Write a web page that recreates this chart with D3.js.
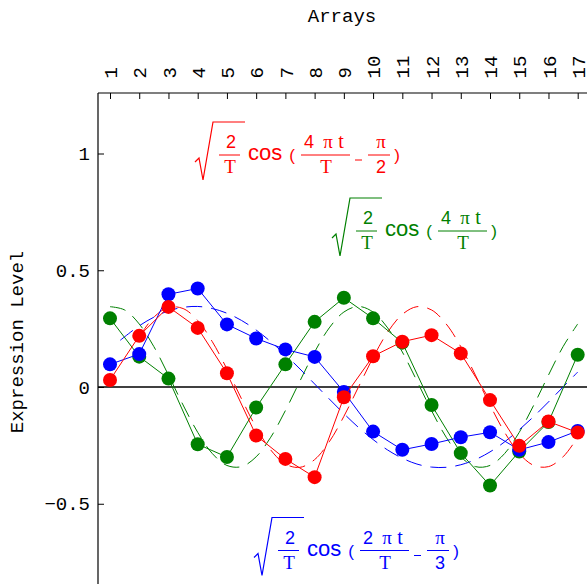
<!DOCTYPE html>
<html>
<head>
<meta charset="utf-8">
<script src="https://cdn.jsdelivr.net/npm/d3@7"></script>
<style>
  body { margin: 0; background: #fff; }
  svg { display: block; }
</style>
</head>
<body>
<div id="chart"></div>
<script>
// arrays on the top axis
const arrays = [1, 2, 3, 4, 5, 6, 7, 8, 9, 10, 11, 12, 13, 14, 15, 16, 17];
const yTicks = [-0.5, 0, 0.5, 1];

// measured expression levels
const redValues = [0.030, 0.219, 0.343, 0.253, 0.059, -0.208, -0.308, -0.386, -0.044, 0.132, 0.194, 0.222, 0.144, -0.056, -0.252, -0.148, -0.195];
const greenValues = [0.294, 0.130, 0.036, -0.245, -0.300, -0.088, 0.097, 0.279, 0.382, 0.294, 0.190, -0.077, -0.283, -0.422, -0.276, -0.150, 0.138];
const blueValues = [0.097, 0.141, 0.397, 0.422, 0.268, 0.208, 0.161, 0.129, -0.021, -0.191, -0.269, -0.244, -0.215, -0.194, -0.269, -0.236, -0.188];

// dashed model curves (array position, level)
const greenFitT = [1, 1.5, 2, 2.5, 3, 3.5, 4, 4.5, 5, 5.5, 6, 6.5, 7, 7.5, 8, 8.5, 9, 9.5, 10, 10.5, 11, 11.5, 12, 12.5, 13, 13.5, 14, 14.5, 15, 15.5, 16, 16.5, 17];
const greenFit = [0.344, 0.330, 0.270, 0.173, 0.051, -0.077, -0.194, -0.285, -0.336, -0.341, -0.299, -0.215, -0.101, 0.026, 0.150, 0.253, 0.321, 0.345, 0.321, 0.253, 0.150, 0.026, -0.101, -0.215, -0.299, -0.341, -0.336, -0.285, -0.194, -0.077, 0.051, 0.173, 0.270];
const redFitT = [2, 2.5, 3, 3.5, 4, 4.5, 5, 5.5, 6, 6.5, 7, 7.5, 8, 8.5, 9, 9.5, 10, 10.5, 11, 11.5, 12, 12.5, 13, 13.5, 14, 14.5, 15, 15.5, 16, 16.5, 17];
const redFit = [0.215, 0.299, 0.341, 0.336, 0.285, 0.194, 0.077, -0.051, -0.173, -0.270, -0.330, -0.344, -0.311, -0.235, -0.126, 0.000, 0.126, 0.235, 0.311, 0.344, 0.330, 0.270, 0.173, 0.051, -0.077, -0.194, -0.285, -0.336, -0.341, -0.299, -0.215];
const blueFitT = [1.35, 1.5, 2, 2.5, 3, 3.5, 4, 4.5, 5, 5.5, 6, 6.5, 7, 7.5, 8, 8.5, 9, 9.5, 10, 10.5, 11, 11.5, 12, 12.5, 13, 13.5, 14, 14.5, 15, 15.5, 16, 16.5, 17];
const blueFit = [0.200, 0.215, 0.262, 0.299, 0.326, 0.341, 0.345, 0.336, 0.316, 0.285, 0.244, 0.194, 0.138, 0.077, 0.013, -0.051, -0.114, -0.173, -0.225, -0.270, -0.305, -0.330, -0.343, -0.344, -0.333, -0.311, -0.278, -0.235, -0.183, -0.126, -0.064, 0.000, 0.064];

const width = 587;
const height = 584;
const mono = "'Liberation Mono', 'Courier New', monospace";
const sans = "'Liberation Sans', Arial, sans-serif";
const serif = "'Liberation Serif', 'Times New Roman', serif";

const frameLeft = 98;
const frameTop = 93;

const x = d3.scaleLinear().domain([1, 17]).range([110, 577.7]);
const y = d3.scaleLinear().domain([-0.5, 1]).range([503.75, 153.5]);

const svg = d3
  .select('#chart')
  .append('svg')
  .attr('width', width)
  .attr('height', height);

// frame (left + top), the rest runs off the picture
svg.append('line')
  .attr('x1', frameLeft).attr('x2', frameLeft)
  .attr('y1', frameTop).attr('y2', height + 5)
  .attr('stroke', '#000').attr('stroke-width', 1.2);
svg.append('line')
  .attr('x1', frameLeft).attr('x2', width + 5)
  .attr('y1', frameTop).attr('y2', frameTop)
  .attr('stroke', '#000').attr('stroke-width', 1.2);

// top axis: ticks inward, labels turned
const xAxis = svg.append('g')
  .attr('transform', `translate(0, ${frameTop})`)
  .call(d3.axisTop(x).tickValues(arrays).tickSizeInner(-6).tickSizeOuter(0).tickFormat(d3.format('d')));
xAxis.select('.domain').remove();
xAxis.selectAll('line').attr('stroke', '#000');
xAxis.selectAll('text')
  .attr('font-family', mono)
  .attr('font-size', 19)
  .attr('fill', '#000')
  .attr('text-anchor', 'start')
  .attr('transform', 'rotate(-90)')
  .attr('x', 14.5)
  .attr('y', 0)
  .attr('dy', '0.35em');

// left axis
const yAxis = svg.append('g')
  .attr('transform', `translate(${frameLeft}, 0)`)
  .call(d3.axisLeft(y).tickValues(yTicks).tickSizeInner(-6).tickSizeOuter(0)
    .tickFormat((d) => (d === 0 ? '0' : d3.format('')(d).replace('-', '\u2212'))));
yAxis.select('.domain').remove();
yAxis.selectAll('line').attr('stroke', '#000');
yAxis.selectAll('text')
  .attr('font-family', mono)
  .attr('font-size', 19)
  .attr('fill', '#000')
  .attr('x', -8);

// axis titles
svg.append('text')
  .attr('x', 342).attr('y', 22)
  .attr('text-anchor', 'middle')
  .attr('font-family', mono).attr('font-size', 19)
  .text('Arrays');
svg.append('text')
  .attr('transform', 'translate(23, 342) rotate(-90)')
  .attr('text-anchor', 'middle')
  .attr('font-family', mono).attr('font-size', 19)
  .text('Expression Level');

// zero line
svg.append('line')
  .attr('x1', frameLeft).attr('x2', width + 5)
  .attr('y1', y(0)).attr('y2', y(0))
  .attr('stroke', '#000').attr('stroke-width', 1.3);

const series = [
  { color: '#008000', values: greenValues, fitT: greenFitT, fit: greenFit },
  { color: '#0000ff', values: blueValues, fitT: blueFitT, fit: blueFit },
  { color: '#ff0000', values: redValues, fitT: redFitT, fit: redFit },
];

const fitLine = d3.line().x((d) => x(d[0])).y((d) => y(d[1])).curve(d3.curveCatmullRom);
const dataLine = d3.line().x((d, i) => x(arrays[i])).y((d) => y(d));

// dashed model curves
series.forEach((s) => {
  svg.append('path')
    .attr('d', fitLine(d3.zip(s.fitT, s.fit)))
    .attr('fill', 'none')
    .attr('stroke', s.color)
    .attr('stroke-width', 1)
    .attr('stroke-dasharray', '16,9');
});

// data: line then dots, green / blue / red
series.forEach((s) => {
  svg.append('path')
    .attr('d', dataLine(s.values))
    .attr('fill', 'none')
    .attr('stroke', s.color)
    .attr('stroke-width', 1);
  svg.append('g')
    .selectAll('circle')
    .data(s.values)
    .join('circle')
    .attr('cx', (d, i) => x(arrays[i]))
    .attr('cy', (d) => y(d))
    .attr('r', 7)
    .attr('fill', s.color);
});

// formula labels: sqrt(2/T) cos( n pi t / T - pi/k )
function formula(x0, y0, color, num, phase) {
  const g = svg.append('g').attr('fill', color);
  const txt = (tx, ty, s, font, size, anchor) =>
    g.append('text')
      .attr('x', x0 + tx).attr('y', y0 + ty)
      .attr('text-anchor', anchor || 'middle')
      .attr('font-family', font).attr('font-size', size)
      .text(s);
  const bar = (a, b) =>
    g.append('line')
      .attr('x1', x0 + a).attr('x2', x0 + b)
      .attr('y1', y0).attr('y2', y0)
      .attr('stroke', color).attr('stroke-width', 1);

  g.append('path')
    .attr('d', `M${x0},${y0 + 7}L${x0 + 4},${y0 + 3}L${x0 + 8},${y0 + 25}L${x0 + 18},${y0 - 33}L${x0 + 50},${y0 - 33}`)
    .attr('fill', 'none')
    .attr('stroke', color)
    .attr('stroke-width', 1.2);
  txt(36, -7, '2', sans, 18);
  bar(24, 45);
  txt(35, 18, 'T', serif, 19);
  txt(53, 5, 'cos', sans, 22, 'start');
  txt(97, 6, '(', sans, 17);
  txt(114, -7, num, sans, 18);
  txt(133, -7, '\u03c0', serif, 19);
  txt(146, -7, 't', serif, 20);
  bar(106, 155);
  txt(131, 18, 'T', serif, 19);
  if (phase) {
    g.append('line')
      .attr('x1', x0 + 160).attr('x2', x0 + 167)
      .attr('y1', y0 + 5).attr('y2', y0 + 5)
      .attr('stroke', color).attr('stroke-width', 1);
    txt(186, -7, '\u03c0', serif, 19);
    bar(173, 195);
    txt(186, 18, phase, sans, 18);
    txt(202, 6, ')', sans, 17);
  } else {
    txt(162, 6, ')', sans, 17);
  }
}

formula(195, 155, '#ff0000', '4', '2');
formula(332, 231, '#008000', '4', null);
formula(254, 550.5, '#0000ff', '2', '3');
</script>
</body>
</html>
